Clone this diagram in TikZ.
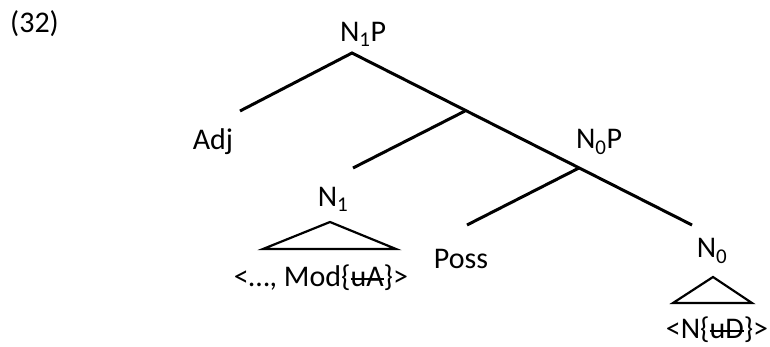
\documentclass[tikz,border=0pt]{standalone}
\usepackage{fontspec}
\setmainfont{Carlito}
\newlength\strkw
\newcommand{\strk}[1]{\settowidth{\strkw}{#1}\rlap{\rule[0.2em]{\strkw}{1.6pt}}#1}

\begin{document}
\begin{tikzpicture}[x=1pt, y=-1pt, lbl/.style={anchor=base,inner sep=0pt,font=\fontsize{30}{34}\selectfont}]
    \useasboundingbox (0,0) rectangle (770,347);
    \node[lbl,anchor=base west] (ex) at (10,33) {(32)};

    \node[lbl] (n1p) at (363,42) {N\textsubscript{1}P};
    \node[lbl] (adj) at (213,150) {Adj};
    \node[lbl] (n1) at (333,207) {N\textsubscript{1}};
    \node[lbl] (mod) at (321,286) {<\ldots, Mod\{\strk{uA}\}>};
    \node[lbl] (n0p) at (599,149) {N\textsubscript{0}P};
    \node[lbl] (poss) at (461,268) {Poss};
    \node[lbl] (n0) at (712,258) {N\textsubscript{0}};
    \node[lbl] (nd) at (717,338) {<N\{\strk{uD}\}>};

    \coordinate (top) at (352,53);  \coordinate (a) at (240,111);
    \coordinate (j1) at (465,111);  \coordinate (b) at (353,168);
    \coordinate (j2) at (579,168);  \coordinate (c) at (467,225);
    \coordinate (d) at (692,225);

    \draw[line width=3pt] (a)--(top)--(d); \draw[line width=3pt] (j1)--(b); \draw[line width=3pt] (j2)--(c);
    \draw[line width=2.2pt] (330,222)--(396,249)--(263,249)--cycle;
    \draw[line width=2.2pt] (713,277)--(752,303)--(673,303)--cycle;
\end{tikzpicture}
\end{document}
